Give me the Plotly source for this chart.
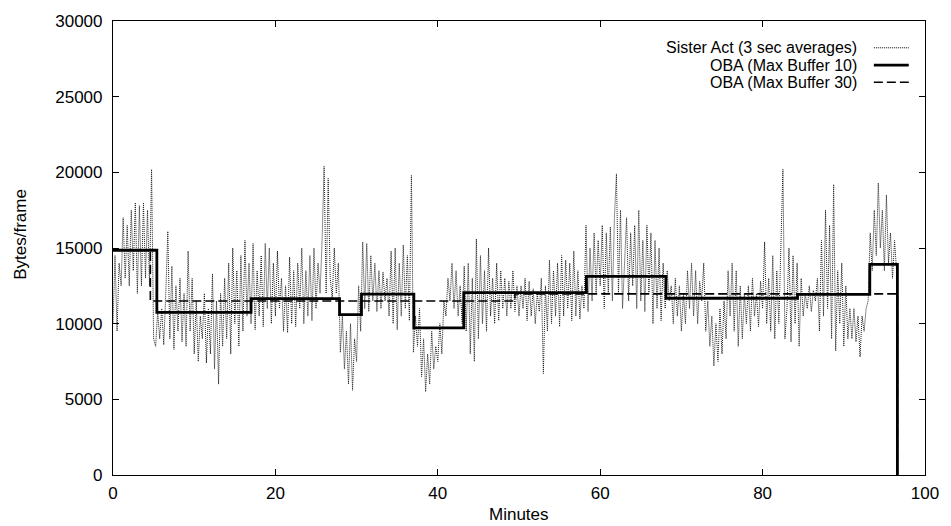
import numpy as np
import plotly.graph_objects as go

# Sister Act, 3 sec averages (4 samples per minute)
sister_act = [
    10000, 14500, 9500, 14000,    # 0
    12500, 17000, 13000, 16500,   # 1
    12500, 17500, 13500, 18000,   # 2
    12000, 17800, 12500, 18000,   # 3
    13000, 17500, 12500, 20200,   # 4
    9000, 8500, 10800, 9000,      # 5
    11000, 8600, 12000, 16100,    # 6
    9000, 13800, 8300, 12500,     # 7
    9500, 13000, 8800, 12000,     # 8
    8500, 14800, 9500, 13000,     # 9
    8000, 11500, 7500, 10500,     # 10
    9000, 12000, 7400, 11000,     # 11
    8000, 13300, 7000, 11500,     # 12
    6000, 12000, 8500, 13000,     # 13
    9000, 14000, 8000, 15000,     # 14
    10000, 13500, 8500, 14500,    # 15
    9500, 15500, 10500, 14000,    # 16
    10000, 15300, 9600, 13500,    # 17
    10500, 14500, 9800, 15300,    # 18
    11000, 15000, 10000, 14000,   # 19
    10500, 14800, 11000, 13000,   # 20
    9500, 12500, 9400, 14400,     # 21
    10000, 13500, 9800, 14000,    # 22
    11000, 15000, 10000, 13500,   # 23
    10500, 14500, 10200, 15000,   # 24
    11000, 14000, 12000, 15500,   # 25
    20400, 12000, 19600, 13000,   # 26
    11700, 15000, 12000, 14000,   # 27
    8100, 10500, 7000, 9500,      # 28
    6000, 10000, 5600, 9000,      # 29
    7500, 12500, 9500, 15400,     # 30
    11000, 15300, 10800, 14500,   # 31
    11500, 14000, 10800, 13500,   # 32
    11000, 13400, 11500, 13000,   # 33
    10500, 14800, 10000, 15000,   # 34
    9600, 14000, 10500, 15200,    # 35
    11000, 14500, 10200, 19800,   # 36
    8100, 10500, 8500, 11000,     # 37
    6500, 9000, 5500, 8000,       # 38
    6000, 9500, 7000, 8500,       # 39
    7500, 10000, 8000, 11500,     # 40
    10500, 13000, 11500, 14000,   # 41
    11000, 13500, 10500, 12500,   # 42
    10000, 13800, 9500, 14000,    # 43
    8000, 13000, 7500, 15600,     # 44
    9000, 14500, 10000, 13500,    # 45
    9500, 15000, 10500, 13000,    # 46
    10000, 14000, 10200, 13500,   # 47
    11000, 13000, 10500, 12800,   # 48
    11000, 13500, 10800, 12500,   # 49
    10500, 12500, 11000, 13000,   # 50
    10200, 12800, 10500, 12300,   # 51
    10000, 12000, 10800, 13000,   # 52
    6700, 12500, 9500, 14200,     # 53
    10000, 13500, 10500, 14000,   # 54
    9800, 14500, 10500, 14200,    # 55
    11000, 14000, 10200, 14800,   # 56
    10500, 13500, 10300, 12500,   # 57
    11000, 16500, 10800, 15000,   # 58
    11500, 16000, 12000, 15500,   # 59
    12500, 16500, 11000, 16000,   # 60
    12000, 16400, 11500, 17000,   # 61
    19900, 12000, 17500, 11000,   # 62
    14000, 17000, 11500, 16000,   # 63
    12500, 16500, 11000, 17500,   # 64
    11500, 15500, 10800, 16500,   # 65
    12000, 16000, 10000, 15500,   # 66
    11000, 15000, 10200, 14000,   # 67
    11000, 13500, 11500, 12500,   # 68
    10000, 13000, 10500, 12500,   # 69
    9500, 12000, 10000, 13500,    # 70
    11000, 14000, 10500, 13500,   # 71
    10000, 12800, 11500, 14000,   # 72
    9500, 11500, 8500, 10500,     # 73
    7200, 10000, 7500, 11000,     # 74
    8000, 11500, 9000, 13500,     # 75
    10500, 14000, 9500, 13500,    # 76
    8500, 12500, 9000, 12000,     # 77
    10000, 12500, 9500, 13000,    # 78
    10500, 12000, 9800, 12800,    # 79
    11000, 15400, 10000, 13000,   # 80
    9500, 14500, 9000, 13500,     # 81
    10000, 15000, 20200, 9000,    # 82
    11000, 15000, 8800, 14500,    # 83
    10000, 14000, 8500, 13000,    # 84
    10500, 12000, 11000, 12500,   # 85
    10800, 12200, 11500, 13000,   # 86
    9500, 15500, 10500, 17500,    # 87
    11000, 16500, 9000, 19200,    # 88
    8200, 13500, 10000, 14000,    # 89
    8500, 12500, 9000, 11000,     # 90
    9000, 11000, 8800, 10500,     # 91
    7800, 10500, 9500, 11000,     # 92
    11500, 16000, 13500, 17500,   # 93
    14500, 19300, 15000, 17500,   # 94
    13500, 18500, 14000, 16000,   # 95
    13000, 15500, 13500,          # 96
]
minutes = np.arange(len(sister_act)) * 0.25

# OBA step plans: start minute of each segment and its level
oba10_start = [0, 5.4, 17.0, 27.9, 30.6, 37.05, 43.2, 58.3, 68.1, 84.3, 93.2, 96.6]
oba10_level = [14850, 10750, 11650, 10600, 11950, 9720, 12050, 13130, 11680, 11930, 13920, 0]
oba30_start = [0, 4.6, 49.5, 96.6]
oba30_level = [14850, 11500, 11970, 0]

legend_names = ["Sister Act (3 sec averages)", "OBA (Max Buffer 10)", "OBA (Max Buffer 30)"]

FONT = "Liberation Sans, Arial, Helvetica, sans-serif"
NOISE_DASH = "1px,1px"

fig = go.Figure()
fig.add_trace(go.Scatter(x=minutes, y=sister_act, mode="lines",
                         line=dict(color="#1e1e1e", width=1, dash=NOISE_DASH)))
fig.add_trace(go.Scatter(x=oba30_start, y=oba30_level, mode="lines", line_shape="hv",
                         line=dict(color="black", width=1.6, dash="9px,4px")))
fig.add_trace(go.Scatter(x=oba10_start, y=oba10_level, mode="lines", line_shape="hv",
                         line=dict(color="black", width=2.8)))

axis = dict(showgrid=False, zeroline=False, showline=True, linecolor="black", linewidth=1.2,
            mirror="ticks", ticks="inside", ticklen=6, tickcolor="black",
            tickfont=dict(family=FONT, size=17, color="black"))
fig.update_xaxes(range=[0, 100], dtick=20, tickformat="d", ticklabelstandoff=2, **axis)
fig.update_yaxes(range=[0, 30000], dtick=5000, tickformat="d", ticklabelstandoff=6, **axis)

# gnuplot style key: text right aligned, sample line to the right
key_y = [0.941, 0.903, 0.865]
key_dash = [NOISE_DASH, "solid", "9px,4px"]
key_width = [1, 2.8, 1.6]
for name, ky, kd, kw in zip(legend_names, key_y, key_dash, key_width):
    fig.add_annotation(x=0.918, y=ky, xref="paper", yref="paper", text=name, showarrow=False,
                       xanchor="right", yanchor="middle", borderpad=0,
                       font=dict(family=FONT, size=16, color="black"))
    fig.add_shape(type="line", xref="paper", yref="paper", x0=0.937, x1=0.980, y0=ky, y1=ky,
                  line=dict(color="black", width=kw, dash=kd))

fig.add_annotation(x=0.5, y=-0.087, xref="paper", yref="paper", text="Minutes", showarrow=False,
                   yanchor="middle", font=dict(family=FONT, size=17, color="black"))
fig.add_annotation(x=-0.114, y=0.53, xref="paper", yref="paper", text="Bytes/frame", showarrow=False,
                   textangle=-90, xanchor="center", yanchor="middle",
                   font=dict(family=FONT, size=17, color="black"))

fig.update_layout(width=951, height=526, showlegend=False,
                  margin=dict(l=113, r=23, t=14, b=51),
                  paper_bgcolor="white", plot_bgcolor="white")

# drop the page's default body margin so the figure sits at the window's corner
fig.write_html("out.html", config={"displayModeBar": False},
               post_script="document.body.style.margin='0';")
